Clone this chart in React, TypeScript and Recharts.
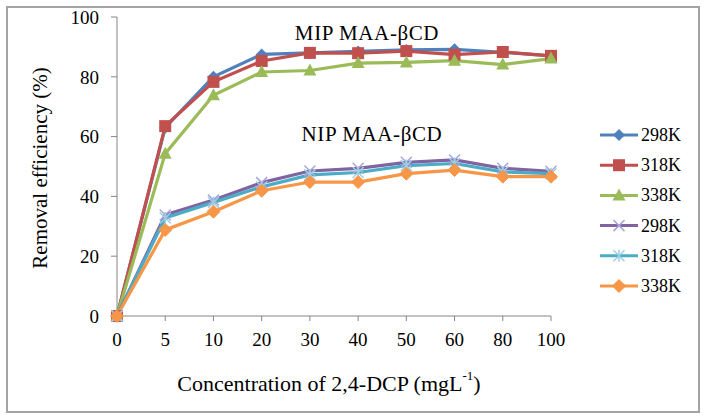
import React from 'react';
import { LineChart, Line, XAxis, YAxis, Customized } from 'recharts';

const categories = ['0', '5', '10', '20', '30', '40', '50', '60', '80', '100'];
const mip298 = [0, 63, 80, 87.5, 88, 88.5, 89, 89.2, 88.2, 87];
const mip318 = [0, 63.5, 78.3, 85.3, 88, 87.9, 88.6, 87.4, 88.3, 87];
const mip338 = [0, 54.3, 73.8, 81.6, 82.1, 84.6, 84.8, 85.4, 84.1, 86.1];
const nip298 = [0, 33.8, 38.8, 44.6, 48.5, 49.4, 51.4, 52.2, 49.4, 48.4];
const nip318 = [0, 32.8, 38, 43.2, 47.2, 48, 50.3, 51, 48.2, 47.6];
const nip338 = [0, 28.8, 34.9, 41.9, 44.8, 44.8, 47.6, 48.8, 46.6, 46.6];
const yTicks = [0, 20, 40, 60, 80, 100];
const legendLabels = ['298K', '318K', '338K', '298K', '318K', '338K'];

const FONT = 'Liberation Serif, Times New Roman, serif';

type Shape = 'diamond' | 'square' | 'triangle' | 'x' | 'star' | 'diamond2';

const series: { key: string; values: number[]; color: string; shape: Shape; mark: string }[] = [
  { key: 'mip298', values: mip298, color: '#4F81BD', shape: 'diamond', mark: '#4F81BD' },
  { key: 'mip318', values: mip318, color: '#C0504D', shape: 'square', mark: '#C0504D' },
  { key: 'mip338', values: mip338, color: '#9BBB59', shape: 'triangle', mark: '#9BBB59' },
  { key: 'nip298', values: nip298, color: '#8064A2', shape: 'x', mark: '#A9A6D9' },
  { key: 'nip318', values: nip318, color: '#4BACC6', shape: 'star', mark: '#9CCFE6' },
  { key: 'nip338', values: nip338, color: '#F79646', shape: 'diamond2', mark: '#F79646' },
];

const data = categories.map((c, i) => {
  const row: Record<string, number | string> = { x: c };
  series.forEach((s) => {
    row[s.key] = s.values[i];
  });
  return row;
});

function marker(shape: Shape, color: string, cx: number, cy: number, k?: string) {
  switch (shape) {
    case 'diamond':
      return <path key={k} d={`M${cx},${cy - 6}L${cx + 6},${cy}L${cx},${cy + 6}L${cx - 6},${cy}Z`} fill={color} />;
    case 'diamond2':
      return <path key={k} d={`M${cx},${cy - 6.5}L${cx + 6.5},${cy}L${cx},${cy + 6.5}L${cx - 6.5},${cy}Z`} fill={color} strokeLinejoin="round" stroke={color} strokeWidth={1} />;
    case 'square':
      return <rect key={k} x={cx - 6} y={cy - 6} width={12} height={12} fill={color} />;
    case 'triangle':
      return <path key={k} d={`M${cx},${cy - 7}L${cx + 6.5},${cy + 5}L${cx - 6.5},${cy + 5}Z`} fill={color} />;
    case 'x':
      return (
        <path key={k} d={`M${cx - 5.5},${cy - 5.5}L${cx + 5.5},${cy + 5.5}M${cx + 5.5},${cy - 5.5}L${cx - 5.5},${cy + 5.5}`} stroke={color} strokeWidth={1.5} fill="none" />
      );
    case 'star':
      return (
        <path key={k} d={`M${cx - 5.5},${cy - 5.5}L${cx + 5.5},${cy + 5.5}M${cx + 5.5},${cy - 5.5}L${cx - 5.5},${cy + 5.5}M${cx},${cy - 6}L${cx},${cy + 6}`} stroke={color} strokeWidth={1.5} fill="none" />
      );
  }
  return null;
}

const makeDot = (s: { key: string; shape: Shape; mark: string }) => (props: any) => {
  const { cx, cy, index } = props;
  return marker(s.shape, s.mark, cx, cy, `${s.key}-${index}`);
};

const Overlay = () => (
  <g style={{ fontFamily: FONT }} fill="#000">
    <text x={359} y={32} textAnchor="middle" fontSize={21} letterSpacing={0.6}>MIP MAA-βCD</text>
    <text x={364} y={133} textAnchor="middle" fontSize={21} letterSpacing={0.6}>NIP MAA-βCD</text>
    <text x={321} y={375} textAnchor="middle" dominantBaseline="central" fontSize={22}>
      Concentration of 2,4-DCP (mgL<tspan dy={-8} fontSize={13}>-1</tspan><tspan dy={8}>)</tspan>
    </text>
    <text x={32} y={160} textAnchor="middle" dominantBaseline="central" fontSize={21} transform="rotate(-90 32 160)">
      Removal efficiency (%)
    </text>
    {series.map((s, i) => {
      const y = 127 + i * 30.2;
      return (
        <g key={s.key}>
          <line x1={592} x2={630} y1={y} y2={y} stroke={s.color} strokeWidth={3} />
          {marker(s.shape, s.mark, 611, y)}
          <text x={633} y={y} dominantBaseline="central" fontSize={18}>{legendLabels[i]}</text>
        </g>
      );
    })}
  </g>
);

export default function App() {
  return (
    <div style={{ position: 'absolute', left: 6, top: 6, width: 690, height: 403, border: '2px solid #A3A3A3', background: '#fff' }}>
      <LineChart width={690} height={403} data={data} margin={{ top: 9, right: 147, left: 0, bottom: 65 }}>
        <XAxis
          dataKey="x"
          height={30}
          stroke="#868686"
          tickSize={5}
          tickMargin={12}
          tick={{ fill: '#000', fontSize: 19, fontFamily: FONT }}
          interval={0}
        />
        <YAxis
          width={109}
          domain={[0, 100]}
          ticks={yTicks}
          stroke="#868686"
          tickSize={6}
          tickMargin={12}
          tick={{ fill: '#000', fontSize: 19, fontFamily: FONT }}
          interval={0}
        />
        {series.map((s) => (
          <Line
            key={s.key}
            dataKey={s.key}
            stroke={s.color}
            strokeWidth={3.2}
            dot={makeDot(s)}
            activeDot={false}
            isAnimationActive={false}
          />
        ))}
        <Customized component={Overlay} />
      </LineChart>
    </div>
  );
}
